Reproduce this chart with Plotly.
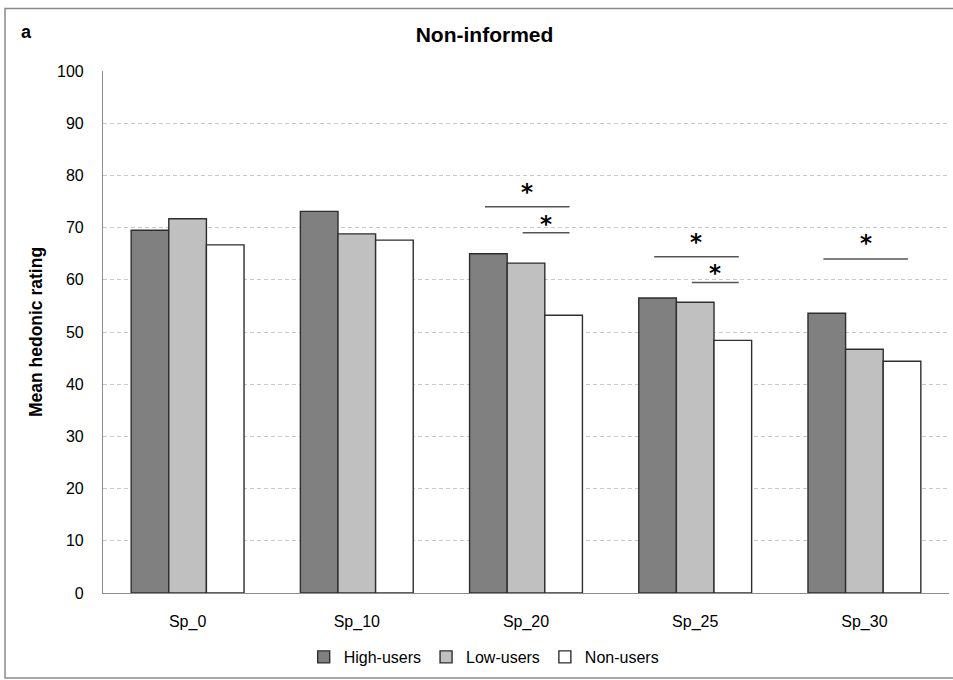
import plotly.graph_objects as go

categories = ["Sp_0", "Sp_10", "Sp_20", "Sp_25", "Sp_30"]
high_users = [69.5, 73.1, 65.0, 56.5, 53.6]
low_users = [71.7, 68.8, 63.2, 55.7, 46.7]
non_users = [66.7, 67.6, 53.2, 48.4, 44.4]
series_names = ["High-users", "Low-users", "Non-users"]
series_colors = ["#808080", "#c0c0c0", "#ffffff"]
y_ticks = [0, 10, 20, 30, 40, 50, 60, 70, 80, 90, 100]

# significance brackets: (category, from-series, to-series, line level, star level)
sig_category = ["Sp_20", "Sp_20", "Sp_25", "Sp_25", "Sp_30"]
sig_from = [0, 1, 0, 1, 0]
sig_to = [2, 2, 2, 2, 2]
sig_line_y = [74.0, 69.0, 64.4, 59.5, 64.0]
sig_star_y = [77.3, 71.3, 67.8, 61.9, 67.6]

FONT = "Liberation Sans Narrow, Liberation Sans, Arial"
bargap = 0.333
n_series = 3
bar_w = (1 - bargap) / n_series

fig = go.Figure()
for name, vals, col in zip(series_names, [high_users, low_users, non_users], series_colors):
    fig.add_trace(go.Bar(
        x=categories, y=vals, name=name,
        marker=dict(color=col, line=dict(color="#2e2e2e", width=1.4)),
    ))

for cat, a, b, ly, sy in zip(sig_category, sig_from, sig_to, sig_line_y, sig_star_y):
    ci = categories.index(cat)
    xa = ci + (a - 1) * bar_w - 0.02
    xb = ci + (b - 1) * bar_w + 0.035
    fig.add_shape(type="line", xref="x", yref="y", x0=xa, x1=xb, y0=ly, y1=ly,
                  line=dict(color="#555555", width=1.5))
    fig.add_annotation(x=(xa + xb) / 2, y=sy, xref="x", yref="y", text="<b>*</b>",
                       showarrow=False, yanchor="bottom", yshift=-18,
                       font=dict(size=23, color="#000000", family="DejaVu Sans"))

# outer frame
fig.add_shape(type="rect", xref="paper", yref="paper",
              x0=-0.1158, x1=1.02, y0=-0.1628, y1=1.1197,
              line=dict(color="#8a8a8a", width=1.5), fillcolor="rgba(0,0,0,0)")

fig.add_annotation(text="<b>a</b>", xref="paper", yref="paper", x=-0.09, y=1.074,
                   showarrow=False, xanchor="center", yanchor="middle",
                   font=dict(size=18, color="#000000", family=FONT))

fig.update_layout(
    width=953, height=680,
    margin=dict(l=103, r=4, t=71, b=87),
    paper_bgcolor="white", plot_bgcolor="white",
    barmode="group", bargap=bargap, bargroupgap=0,
    font=dict(family=FONT, color="#000000", size=16),
    title=dict(text="<b>Non-informed</b>", x=0.5084, xref="container",
               xanchor="center", y=1 - 35 / 680, yanchor="middle",
               font=dict(size=21, family=FONT, color="#000000")),
    showlegend=True,
    legend=dict(orientation="h", x=0.45, xanchor="center", y=-0.1226, yanchor="middle",
                font=dict(size=16, family=FONT), itemwidth=30, traceorder="normal"),
    xaxis=dict(showline=True, linecolor="#8c8c8c", linewidth=1.2, ticks="",
               ticklabelstandoff=14, tickfont=dict(size=16)),
    yaxis=dict(range=[0, 100], tickvals=y_ticks, showline=True, linecolor="#8c8c8c",
               linewidth=1.2, showgrid=True, gridcolor="#c8c8c8", griddash="4px,3px",
               gridwidth=1, zeroline=False, ticks="", ticklabelstandoff=15,
               tickfont=dict(size=16),
               title=dict(text="<b>Mean hedonic rating</b>", standoff=9,
                          font=dict(size=17.5, family=FONT))),
)

fig.write_html("out.html", config={"displayModeBar": False},
               post_script="document.body.style.margin='0';document.body.style.overflow='hidden';")
